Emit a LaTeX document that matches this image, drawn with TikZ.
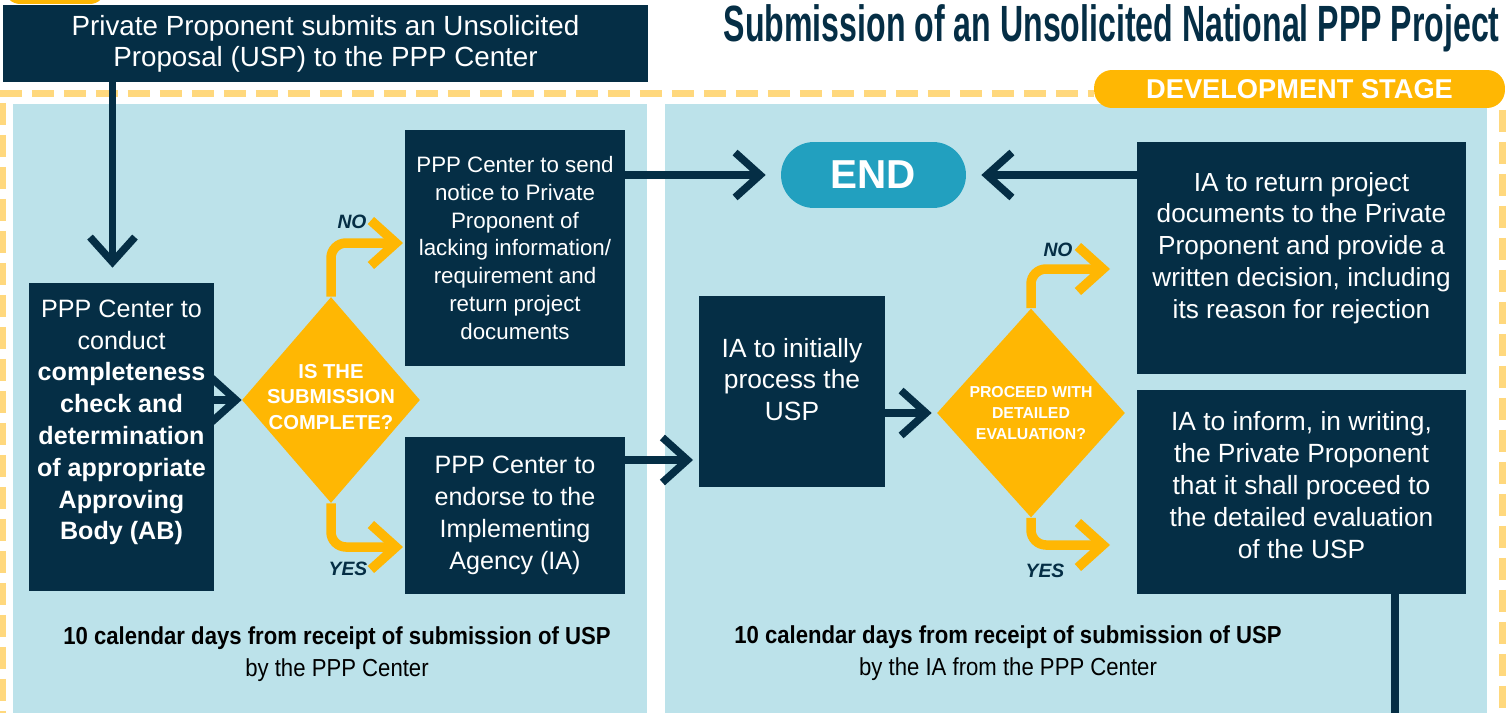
\documentclass[tikz,border=0pt]{standalone}
\usepackage{fontspec}
\setmainfont{Liberation Sans}
\newfontfamily\narrowfont{Liberation Sans}[FakeStretch=0.9]
\newfontfamily\titlefont{Liberation Sans}[FakeStretch=0.63]
\usetikzlibrary{arrows.meta,shapes.geometric,positioning}

\definecolor{navy}{RGB}{5,46,69}
\definecolor{paleblue}{RGB}{188,226,234}
\definecolor{gold}{RGB}{255,183,3}
\definecolor{dashgold}{RGB}{255,216,125}
\definecolor{endteal}{RGB}{34,160,191}

\tikzset{
    box/.style={fill=navy, inner sep=0pt},
    boxtext/.style={text=white, align=center, inner sep=0pt},
    ask/.style={diamond, fill=gold, inner sep=0pt},
    asktext/.style={text=white, align=center, inner sep=0pt},
    flow/.style={draw=navy, line width=0.15cm, -{Straight Barb[length=0.5cm,width=0.9cm]}},
    branch/.style={draw=gold, line width=0.19cm, rounded corners=0.3cm, -{Straight Barb[length=0.5cm,width=0.9cm]}},
    answer/.style={text=navy, font=\bfseries\itshape\fontsize{11}{13}\selectfont},
    note/.style={align=center, font=\narrowfont\fontsize{14}{18.1}\selectfont},
    frame/.style={draw=dashgold, line width=0.14cm, dash pattern=on 0.44cm off 0.2cm}
}

\begin{document}
\begin{tikzpicture}[x=0.02cm, y=-0.02cm]
    \useasboundingbox (0,0) rectangle (1511,713);
    \clip (0,0) rectangle (1511,713);
    % panels and stage frame
    \fill[paleblue] (13,104) rectangle (647,720);
    \fill[paleblue] (665,104) rectangle (1487,720);
    \draw[frame] (0,93.5) -- (1094,93.5);
    \draw[frame] (3,103) -- (3,720);
    \draw[frame] (1502,110) -- (1502,720);
    \fill[gold, rounded corners=0.3cm] (5,-30) rectangle (105,4);
    \node[fill=gold, rounded corners=0.36cm, minimum width=8.22cm, minimum height=0.76cm, inner sep=0pt, text=white, font=\bfseries\fontsize{15.5}{17}\selectfont] (stage) at (1299.5,89) {DEVELOPMENT STAGE};
    \node[anchor=east, inner sep=0pt, text=navy, font=\titlefont\bfseries\fontsize{29}{32}\selectfont] (title) at (1500,28) {Submission of an Unsolicited National PPP Project};

    % boxes
    \node[box, boxtext, minimum width=12.9cm, minimum height=1.54cm, font=\fontsize{15.8}{17.6}\selectfont] (submit) at (325.5,43.5) {Private Proponent submits an Unsolicited\\Proposal (USP) to the PPP Center};
    \node[box, minimum width=3.7cm, minimum height=6.16cm] (lbox) at (121.5,437) {};
    \node[boxtext, font=\fontsize{14.3}{18.1}\selectfont] (lboxtxt) at (121.5,422.5) {PPP Center to\\conduct\\\textbf{completeness}\\\textbf{check and}\\\textbf{determination}\\\textbf{of appropriate}\\\textbf{Approving}\\\textbf{Body (AB)}};
    \node[ask, minimum width=3.56cm, minimum height=4.12cm] (d1) at (331,400) {};
    \node[asktext, font=\bfseries\fontsize{11.5}{14.4}\selectfont] (d1txt) at (331,397) {IS THE\\SUBMISSION\\COMPLETE?};
    \node[box, boxtext, minimum width=4.4cm, minimum height=4.72cm, font=\fontsize{12.7}{15.9}\selectfont] (notice) at (515,248) {PPP Center to send\\notice to Private\\Proponent of\\lacking information/\\requirement and\\return project\\documents};
    \node[box, boxtext, minimum width=4.4cm, minimum height=3.14cm, font=\fontsize{14.3}{18.1}\selectfont] (endorse) at (515,515.5) {PPP Center to\\endorse to the\\Implementing\\Agency (IA)};
    \node[fill=endteal, rounded corners=0.66cm, minimum width=3.7cm, minimum height=1.32cm, inner sep=0pt, text=white, font=\bfseries\fontsize{23}{26}\selectfont] (finish) at (873.5,175) {END};
    \node[box, minimum width=3.72cm, minimum height=3.82cm] (ia) at (792,391.5) {};
    \node[boxtext, font=\fontsize{15}{18.1}\selectfont] (iatxt) at (792,379.5) {IA to initially\\process the\\USP};
    \node[ask, minimum width=3.76cm, minimum height=4.18cm] (d2) at (1031,413) {};
    \node[asktext, font=\bfseries\fontsize{9}{11.9}\selectfont] (d2txt) at (1031,413) {PROCEED WITH\\DETAILED\\EVALUATION?};
    \node[box, minimum width=6.58cm, minimum height=4.64cm] (ret) at (1301.5,258) {};
    \node[boxtext, font=\fontsize{14.9}{18.1}\selectfont] (rettxt) at (1301.5,248) {IA to return project\\documents to the Private\\Proponent and provide a\\written decision, including\\its reason for rejection};
    \node[box, minimum width=6.58cm, minimum height=4.08cm] (inform) at (1301.5,492) {};
    \node[boxtext, font=\fontsize{15}{18.1}\selectfont] (informtxt) at (1301.5,485) {IA to inform, in writing,\\the Private Proponent\\that it shall proceed to\\the detailed evaluation\\of the USP};

    % connectors
    \coordinate (d1no) at (403,243);
    \coordinate (d1yes) at (403,547);
    \coordinate (d2no) at (1110,269);
    \coordinate (d2yes) at (1110,545);
    \coordinate (iain) at (693,460);
    \coordinate (exit) at (1395,720);
    \draw[flow] ([xshift=-0.18cm]lbox.north |- submit.south) -- ([xshift=-0.18cm,yshift=0.3cm]lbox.north);
    \draw[flow] (lbox.east |- d1.west) -- (d1.west);
    \draw[branch] (d1.north) |- (d1no);
    \draw[branch] (d1.south) |- (d1yes);
    \node[answer] (d1nolbl) at (352,222) {NO};
    \node[answer] (d1yeslbl) at (348,569) {YES};
    \draw[flow] (notice.east |- finish.west) -- ([xshift=-0.3cm]finish.west);
    \draw[flow] (ret.west |- finish.east) -- ([xshift=0.3cm]finish.east);
    \draw[flow] (endorse.east |- iain) -- (iain);
    \draw[flow] (ia.east |- d2.west) -- ([xshift=-0.1cm]d2.west);
    \draw[branch] (d2.north) |- (d2no);
    \draw[branch] (d2.south) |- (d2yes);
    \node[answer] (d2nolbl) at (1058,250) {NO};
    \node[answer] (d2yeslbl) at (1045,571) {YES};
    \draw[navy, line width=0.15cm] (inform.south -| exit) -- (exit);

    % time notes
    \node[note] (lnote) at (337,654) {\textbf{10 calendar days from receipt of submission of USP}\\by the PPP Center};
    \node[note] (rnote) at (1008,653) {\textbf{10 calendar days from receipt of submission of USP}\\by the IA from the PPP Center};
\end{tikzpicture}
\end{document}
